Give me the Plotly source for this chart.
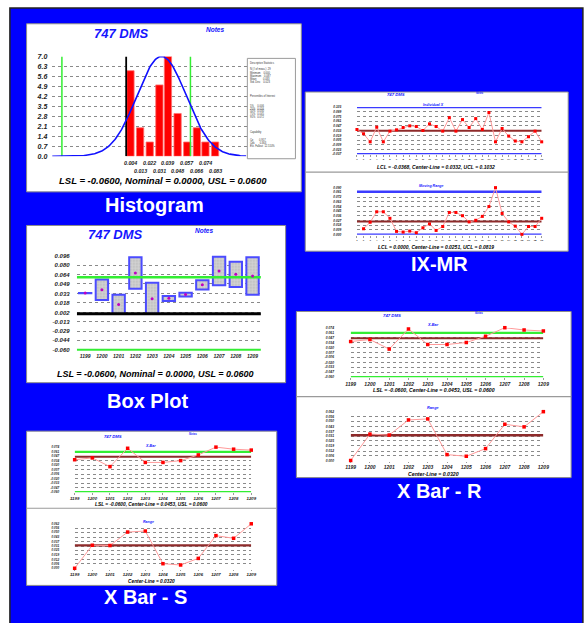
import numpy as np
import plotly.graph_objects as go

W, H = 584, 623
FONT = "Arial, 'Liberation Sans', sans-serif"

# ---------------- data ----------------
HIST_BINS = [0.004, 0.013, 0.022, 0.031, 0.039, 0.048, 0.057, 0.066, 0.074, 0.083]
HIST_COUNTS = [6, 2, 1, 5, 7, 3, 1, 2, 1, 1]
HIST_YTICKS = [0.0, 0.7, 1.4, 2.1, 2.8, 3.5, 4.2, 4.9, 5.6, 6.3, 7.0]
MEAN, STD_DEV, CURVE_PEAK = 0.033, 0.023, 7.0
LSL, NOMINAL, USL = -0.06, 0.0, 0.06

STATS_ROWS = [
    "Descriptive Statistics", "N (# of meas.)  29", "Minimum    0.000", "Maximum    0.087",
    "Mean         0.033", "Std. Dev.    0.023", "Percentiles of Interest", "5%     0.006",
    "25%   0.016", "50%   0.030", "75%   0.045", "95%   0.072", "Capability",
    "Cp        0.957", "Cpk       0.363", "Est. Fallout  12.510%",
]

SUBGROUPS = ["1199", "1200", "1201", "1202", "1203", "1204", "1205", "1206", "1207", "1208", "1209"]
BOX_MIN = [0.0338, 0.0226, 0.0000, 0.0411, 0.0000, 0.0210, 0.0285, 0.0400, 0.0470, 0.0438, 0.0313]
BOX_MAX = [0.0342, 0.0562, 0.0313, 0.0932, 0.0508, 0.0292, 0.0345, 0.0552, 0.0937, 0.0856, 0.0932]
BOX_MEAN = [0.0340, 0.0394, 0.0150, 0.0671, 0.0248, 0.0253, 0.0318, 0.0476, 0.0704, 0.0650, 0.0623]
BOX_YTICKS = [0.096, 0.080, 0.064, 0.049, 0.033, 0.018, 0.002, -0.013, -0.029, -0.044, -0.060]

IX_LABELS = [str(i) for i in range(1, 30)]
IX_VALUES = [0.0366, 0.0239, 0.0000, 0.0435, 0.0000, 0.0317, 0.0356, 0.0425, 0.0474, 0.0454,
             0.0337, 0.0533, 0.0454, 0.0317, 0.0719, 0.0317, 0.0660, 0.0425, 0.0690, 0.0366,
             0.0870, 0.0000, 0.0396, 0.0170, 0.0024, 0.0000, 0.0151, 0.0317, 0.0000]
MR_VALUES = [0.0113, 0.0238, 0.0438, 0.0438, 0.0313, 0.0063, 0.0050, 0.0069, 0.0038, 0.0131,
             0.0206, 0.0081, 0.0156, 0.0425, 0.0425, 0.0363, 0.0244, 0.0275, 0.0350, 0.0538,
             0.0900, 0.0406, 0.0244, 0.0163, 0.0006, 0.0156, 0.0156, 0.0313]
I_LCL, I_CL, I_UCL = -0.0368, 0.0332, 0.1032
MR_LCL, MR_CL, MR_UCL = 0.0000, 0.0251, 0.0819
IX_YTICKS = [0.103, 0.089, 0.075, 0.061, 0.047, 0.033, 0.019, 0.005, -0.009, -0.023, -0.037]
MR_YTICKS = [0.090, 0.081, 0.072, 0.063, 0.054, 0.045, 0.036, 0.027, 0.018, 0.009, 0.000]

XBAR_VALUES = [0.0367, 0.0421, 0.0161, 0.0708, 0.0286, 0.0286, 0.0340, 0.0510, 0.0743, 0.0681, 0.0654]
XBAR_CL = 0.0453
R_VALUES = [0.0000, 0.0335, 0.0323, 0.0515, 0.0528, 0.0075, 0.0054, 0.0151, 0.0460, 0.0427, 0.0620]
R_CL = 0.0320
S_VALUES = [0.0000, 0.0321, 0.0317, 0.0505, 0.0519, 0.0064, 0.0046, 0.0138, 0.0455, 0.0418, 0.0620]
S_CL = 0.0320
XBAR_YTICKS = [0.074, 0.061, 0.047, 0.034, 0.020, 0.007, -0.006, -0.020, -0.033, -0.047, -0.060]
R_YTICKS = [0.062, 0.056, 0.050, 0.043, 0.037, 0.031, 0.025, 0.019, 0.012, 0.006, 0.000]

# ---------------- helpers ----------------
def dom(v1, p1, v2, p2, lo, hi, vertical):
    s = (p2 - p1) / (v2 - v1)
    a = p1 + (lo - v1) * s
    b = p1 + (hi - v1) * s
    if vertical:
        return sorted([1 - a / H, 1 - b / H])
    return sorted([a / W, b / W])


def tfont(size, color="#222"):
    return dict(family=FONT, size=size, color=color, weight="bold", style="italic")


def yax(domain, rng, ticks, fmt, size, anchor, standoff):
    return dict(domain=domain, range=rng, tickvals=ticks, ticktext=[fmt % t for t in ticks],
                showgrid=True, gridcolor="#8a8a8a", griddash="dot", gridwidth=1,
                zeroline=False, showline=False, ticks="outside", ticklen=standoff,
                tickcolor="rgba(0,0,0,0)", tickfont=tfont(size), anchor=anchor, fixedrange=True)


def xax(domain, rng, ticks, labels, size, anchor, ticklen=3, show=True):
    return dict(domain=domain, range=rng, tickvals=ticks, ticktext=labels, showgrid=False,
                zeroline=False, showline=False, ticks="outside" if show else "", ticklen=ticklen,
                tickcolor="#9a9a9a", tickwidth=0.8, tickfont=tfont(size), anchor=anchor,
                showticklabels=show, fixedrange=True)


def rect(x0, y0, x1, y1, fill, line="#8c8c8c", lw=1):
    return dict(type="rect", xref="paper", yref="paper", x0=x0 / W, x1=x1 / W,
                y0=1 - y1 / H, y1=1 - y0 / H, fillcolor=fill, line=dict(color=line, width=lw),
                layer="below")


def pline(x0, y0, x1, y1, color="#8c8c8c", lw=1):
    return dict(type="line", xref="paper", yref="paper", x0=x0 / W, x1=x1 / W,
                y0=1 - y0 / H, y1=1 - y1 / H, line=dict(color=color, width=lw), layer="below")


def ref_line(fig, ax, xs, ys, color, width):
    xa = "x" if ax == 1 else f"x{ax}"
    ya = "y" if ax == 1 else f"y{ax}"
    fig.add_trace(go.Scatter(x=xs, y=ys, mode="lines", line=dict(color=color, width=width),
                             xaxis=xa, yaxis=ya, hoverinfo="skip", showlegend=False,
                             cliponaxis=False))


def txt(px, py, s, size, color="black", bold=True, italic=True, xanchor="center"):
    return dict(x=px / W, y=1 - py / H, xref="paper", yref="paper", text=s, showarrow=False,
                xanchor=xanchor, yanchor="middle",
                font=dict(family=FONT, size=size, color=color,
                          weight="bold" if bold else "normal",
                          style="italic" if italic else "normal"))


BLUE_LIM = "#3b3bff"
GREEN = "#33ee33"
DARKRED = "#8e2a2a"

HX_RNG = [-0.0695, 0.1125]
BOX_XR = [-0.5, 10.5]
IX_XR = [1, 29]
SG_XR = [0, 10]

fig = go.Figure()

# ---------------- histogram (x, y) ----------------
ref_line(fig, 1, [LSL, LSL], [0, 7.0], GREEN, 1.5)
ref_line(fig, 1, [USL, USL], [0, 7.0], GREEN, 1.5)
ref_line(fig, 1, [NOMINAL, NOMINAL], [0, 7.0], "black", 1.8)
fig.add_trace(go.Bar(x=HIST_BINS, y=HIST_COUNTS, width=0.0068, xaxis="x", yaxis="y",
                     marker=dict(color="#ff0000", line=dict(color="#ff7070", width=0.8)),
                     showlegend=False))
cx = np.linspace(-0.069, 0.112, 240)
cy = CURVE_PEAK * np.exp(-0.5 * ((cx - MEAN) / STD_DEV) ** 2)
fig.add_trace(go.Scatter(x=cx, y=cy, mode="lines", line=dict(color="#1010ff", width=1.6),
                         xaxis="x", yaxis="y", showlegend=False, cliponaxis=False))

# ---------------- box plot (x2, y2) ----------------
idx = list(range(len(SUBGROUPS)))
ref_line(fig, 2, BOX_XR, [USL, USL], GREEN, 2.5)
ref_line(fig, 2, BOX_XR, [LSL, LSL], GREEN, 2.5)
ref_line(fig, 2, BOX_XR, [NOMINAL, NOMINAL], "black", 3)
fig.add_trace(go.Bar(x=idx, y=[b - a for a, b in zip(BOX_MIN, BOX_MAX)], base=BOX_MIN, width=0.74,
                     xaxis="x2", yaxis="y2", showlegend=False,
                     marker=dict(color="#c4c4c4", line=dict(color="#4b4bff", width=2),
                                 pattern=dict(shape="+", fgcolor="#ececec", size=3, solidity=0.35))))
fig.add_trace(go.Scatter(x=idx, y=BOX_MEAN, mode="markers", xaxis="x2", yaxis="y2",
                         marker=dict(color="#c000c0", size=3), showlegend=False))

# ---------------- IX-MR (x3,y3) (x4,y4) ----------------
ix_x = list(range(1, len(IX_VALUES) + 1))
ref_line(fig, 3, IX_XR, [I_UCL, I_UCL], BLUE_LIM, 2.5)
ref_line(fig, 3, IX_XR, [I_LCL, I_LCL], BLUE_LIM, 2.5)
ref_line(fig, 3, IX_XR, [I_CL, I_CL], DARKRED, 2)
ref_line(fig, 4, IX_XR, [MR_UCL, MR_UCL], BLUE_LIM, 2.5)
ref_line(fig, 4, IX_XR, [MR_LCL, MR_LCL], BLUE_LIM, 2.5)
ref_line(fig, 4, IX_XR, [MR_CL, MR_CL], DARKRED, 2)
fig.add_trace(go.Scatter(x=ix_x, y=IX_VALUES, mode="lines+markers", xaxis="x3", yaxis="y3",
                         line=dict(color="#ff9a9a", width=1), showlegend=False, cliponaxis=False,
                         marker=dict(color="#ff0000", size=3, symbol="square")))
fig.add_trace(go.Scatter(x=ix_x[1:], y=MR_VALUES, mode="lines+markers", xaxis="x4", yaxis="y4",
                         line=dict(color="#ff9a9a", width=1), showlegend=False, cliponaxis=False,
                         marker=dict(color="#ff0000", size=3, symbol="square")))

# ---------------- X bar - R (x5,y5) (x6,y6) ----------------
ref_line(fig, 5, SG_XR, [USL, USL], GREEN, 2.2)
ref_line(fig, 5, SG_XR, [LSL, LSL], GREEN, 2.2)
ref_line(fig, 5, SG_XR, [XBAR_CL, XBAR_CL], DARKRED, 2)
ref_line(fig, 6, SG_XR, [R_CL, R_CL], DARKRED, 2.4)
fig.add_trace(go.Scatter(x=idx, y=XBAR_VALUES, mode="lines+markers", xaxis="x5", yaxis="y5",
                         line=dict(color="#ff9a9a", width=1), showlegend=False, cliponaxis=False,
                         marker=dict(color="#ff0000", size=3.5, symbol="square")))
fig.add_trace(go.Scatter(x=idx, y=R_VALUES, mode="lines+markers", xaxis="x6", yaxis="y6",
                         line=dict(color="#ff9a9a", width=1), showlegend=False, cliponaxis=False,
                         marker=dict(color="#ff0000", size=3.5, symbol="square")))

# ---------------- X bar - S (x7,y7) (x8,y8) ----------------
ref_line(fig, 7, SG_XR, [USL, USL], GREEN, 2.2)
ref_line(fig, 7, SG_XR, [LSL, LSL], GREEN, 2.2)
ref_line(fig, 7, SG_XR, [XBAR_CL, XBAR_CL], DARKRED, 2)
ref_line(fig, 8, SG_XR, [S_CL, S_CL], DARKRED, 2.2)
fig.add_trace(go.Scatter(x=idx, y=XBAR_VALUES, mode="lines+markers", xaxis="x7", yaxis="y7",
                         line=dict(color="#ff9a9a", width=1), showlegend=False, cliponaxis=False,
                         marker=dict(color="#ff0000", size=3.5, symbol="square")))
fig.add_trace(go.Scatter(x=idx, y=S_VALUES, mode="lines+markers", xaxis="x8", yaxis="y8",
                         line=dict(color="#ff9a9a", width=1), showlegend=False, cliponaxis=False,
                         marker=dict(color="#ff0000", size=3.5, symbol="square")))

# ---------------- axes ----------------
layout_axes = dict(
    xaxis=xax(dom(LSL, 58, USL, 189, *HX_RNG, False), HX_RNG, HIST_BINS, [], 5, "y", show=False),
    yaxis=yax(dom(0, 154, 7, 53, 0, 7.0, True), [0, 7.0], HIST_YTICKS, "%.1f", 7, "x", 2),
    xaxis2=xax(dom(0, 81.7, 10, 252.3, *BOX_XR, False), BOX_XR, idx, SUBGROUPS, 5, "y2", 0),
    yaxis2=yax(dom(0.096, 254.3, -0.060, 350, -0.0612, 0.0972, True), [-0.0612, 0.0972],
               BOX_YTICKS, "%.3f", 6, "x2", 5),
    xaxis3=xax(dom(1, 358.7, 29, 547, *IX_XR, False), IX_XR, ix_x, IX_LABELS, 2.5, "y3", 2),
    yaxis3=yax(dom(0.103, 104.3, -0.037, 152, -0.0372, 0.1033, True), [-0.0372, 0.1033],
               IX_YTICKS, "%.3f", 3.2, "x3", 14),
    xaxis4=xax(dom(1, 358.7, 29, 547, *IX_XR, False), IX_XR, ix_x, IX_LABELS, 2.5, "y4", 2),
    yaxis4=yax(dom(0.090, 185.7, 0.0, 233.3, -0.0003, 0.0903, True), [-0.0003, 0.0903],
               MR_YTICKS, "%.3f", 3.2, "x4", 14),
    xaxis5=xax(dom(0, 352.3, 10, 548.7, *SG_XR, False), SG_XR, idx, SUBGROUPS, 5, "y5", 1.5),
    yaxis5=yax(dom(USL, 332.7, LSL, 377.3, -0.0603, 0.0745, True), [-0.0603, 0.0745],
               XBAR_YTICKS, "%.3f", 3.3, "x5", 15),
    xaxis6=xax(dom(0, 352.3, 10, 548.7, *SG_XR, False), SG_XR, idx, SUBGROUPS, 5, "y6", 1.5),
    yaxis6=yax(dom(0.0, 461.7, 0.062, 412.3, -0.0003, 0.0623, True), [-0.0003, 0.0623],
               R_YTICKS, "%.3f", 3.3, "x6", 15),
    xaxis7=xax(dom(0, 71, 10, 251, *SG_XR, False), SG_XR, idx, SUBGROUPS, 4.3, "y7", 1.5),
    yaxis7=yax(dom(USL, 453, LSL, 493.7, -0.0603, 0.0745, True), [-0.0603, 0.0745],
               XBAR_YTICKS, "%.3f", 3.0, "x7", 14),
    xaxis8=xax(dom(0, 71, 10, 251, *SG_XR, False), SG_XR, idx, SUBGROUPS, 4.3, "y8", 1.5),
    yaxis8=yax(dom(0.0, 570.7, 0.062, 525.7, -0.0003, 0.0623, True), [-0.0003, 0.0623],
               R_YTICKS, "%.3f", 3.0, "x8", 14),
)

# ---------------- shapes (backgrounds / panels) ----------------
shapes = [
    rect(5, 4, W + 5, H + 5, "#0000ff", "#222222", 1.5),
    rect(22, 20, 302, 190, "white"),
    rect(247, 55, 296, 156.5, "white", "#9a9a9a", 1),
    rect(22, 224, 286, 383, "white"),
    rect(306, 89, 574, 250, "white"),
    pline(306, 170, 574, 170, "#9a9a9a", 1.2),
    rect(297, 311, 577, 479, "white"),
    pline(297, 397, 577, 397, "#9a9a9a", 1.2),
    rect(22, 432, 277, 588, "white"),
    pline(22, 510, 277, 510, "#9a9a9a", 1.2),
]

# ---------------- annotations ----------------
TITLE_BLUE = "#1515ff"
ann = [
    # histogram
    txt(119, 30, "747 DMS", 13, TITLE_BLUE),
    txt(214, 26, "Notes", 6.5, TITLE_BLUE),
    txt(161, 179, "LSL = -0.0600, Nominal = 0.0000, USL = 0.0600", 9.5),
    txt(152, 203, "Histogram", 20, "white", italic=False),
    # box plot
    txt(113, 233, "747 DMS", 13, TITLE_BLUE),
    txt(203, 229, "Notes", 6.5, TITLE_BLUE),
    txt(153, 373.7, "LSL = -0.0600, Nominal = 0.0000, USL = 0.0600", 9),
    txt(145, 402, "Box Plot", 20, "white", italic=False),
    # IX-MR
    txt(398, 92, "747 DMS", 4.2, TITLE_BLUE),
    txt(484, 90.5, "Notes", 2.6, TITLE_BLUE),
    txt(437, 102, "Individual X", 3.6, TITLE_BLUE),
    txt(439.5, 165, "LCL = -0.0368, Center-Line = 0.0332, UCL = 0.1032", 5),
    txt(435, 184, "Moving Range", 3.6, TITLE_BLUE),
    txt(439.5, 246, "LCL = 0.0000, Center-Line = 0.0251, UCL = 0.0819", 5),
    txt(443, 263, "IX-MR", 20, "white", italic=False),
    # X bar - R
    txt(394, 315, "747 DMS", 4.3, TITLE_BLUE),
    txt(483, 313, "Notes", 2.8, TITLE_BLUE),
    txt(436, 325, "X-Bar", 3.8, TITLE_BLUE),
    txt(437, 390.5, "LSL = -0.0600, Center-Line = 0.0453, USL = 0.0600", 5.2),
    txt(436, 409, "Range", 3.8, TITLE_BLUE),
    txt(437, 475, "Center-Line = 0.0320", 5.2),
    txt(443, 493, "X Bar - R", 20, "white", italic=False),
    # X bar - S
    txt(110, 437, "747 DMS", 4.2, TITLE_BLUE),
    txt(192, 434.5, "Notes", 2.8, TITLE_BLUE),
    txt(148, 447, "X-Bar", 3.6, TITLE_BLUE),
    txt(149, 505.7, "LSL = -0.0600, Center-Line = 0.0453, USL = 0.0600", 4.8),
    txt(146, 524, "Range", 3.6, TITLE_BLUE),
    txt(149, 583.7, "Center-Line = 0.0320", 4.8),
    txt(143, 600, "X Bar - S", 20, "white", italic=False),
]

# histogram x tick labels in two staggered rows
for i, b in enumerate(HIST_BINS):
    row_py = 161 if i % 2 == 0 else 169
    ann.append(dict(x=b, y=1 - row_py / H, xref="x", yref="paper", text="%.3f" % b,
                    showarrow=False, xanchor="center", yanchor="middle", font=tfont(5.3)))

# descriptive statistics box text
STATS_PY = [59.3, 66, 69.3, 72.5, 75.7, 78.7, 92.7, 102.7, 105.7, 108.7, 111.6, 114.6,
            129.3, 137.3, 140.3, 143.3]
for s, py in zip(STATS_ROWS, STATS_PY):
    ann.append(dict(x=249 / W, y=1 - py / H, xref="paper", yref="paper", text=s,
                    showarrow=False, xanchor="left", yanchor="middle", borderpad=0,
                    font=dict(family=FONT, size=2.6, color="#333")))

fig.update_layout(
    width=W, height=H, margin=dict(l=0, r=0, t=0, b=0), autosize=False,
    paper_bgcolor="white", plot_bgcolor="rgba(0,0,0,0)", showlegend=False,
    shapes=shapes, annotations=ann, **layout_axes,
)

fig.write_html("out.html", config={"displayModeBar": False},
               post_script="document.body.style.margin='0px';document.body.style.overflow='hidden';")
